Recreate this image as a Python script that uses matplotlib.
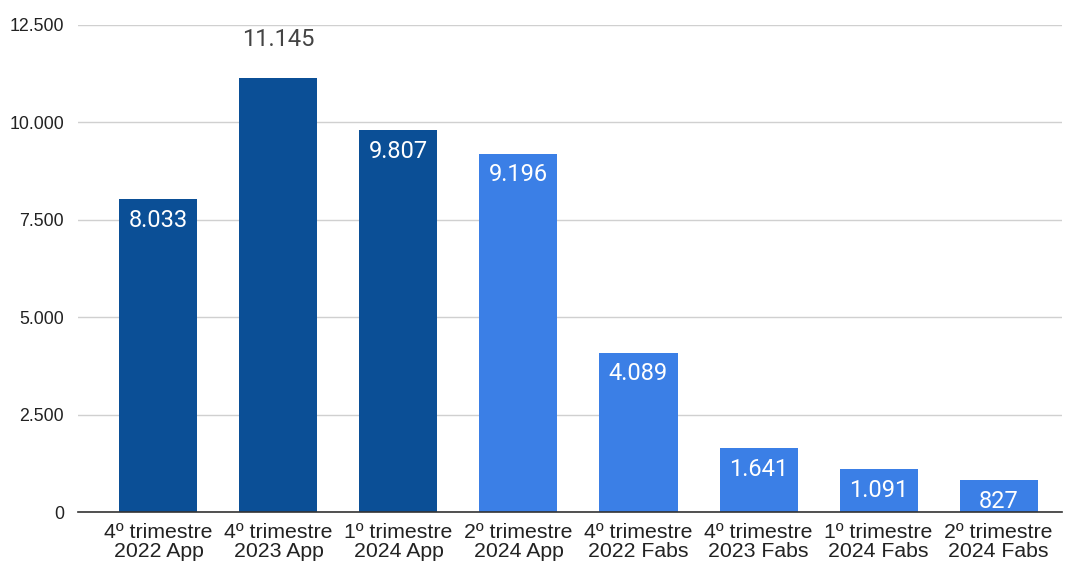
import matplotlib.pyplot as plt
from matplotlib.ticker import FuncFormatter

categorias = ["4º trimestre\n2022 App", "4º trimestre\n2023 App", "1º trimestre\n2024 App",
              "2º trimestre\n2024 App", "4º trimestre\n2022 Fabs", "4º trimestre\n2023 Fabs",
              "1º trimestre\n2024 Fabs", "2º trimestre\n2024 Fabs"]
valores = [8033, 11145, 9807, 9196, 4089, 1641, 1091, 827]
cores = ["#0b4f96", "#0b4f96", "#0b4f96", "#3b7fe6", "#3b7fe6", "#3b7fe6", "#3b7fe6", "#3b7fe6"]
yticks = [0, 2500, 5000, 7500, 10000, 12500]


def br(v):
    return f"{v:,.0f}".replace(",", ".")


fig = plt.figure(figsize=(10.72, 5.65), dpi=100)
ax = fig.add_axes([0.0728, 0.0938, 0.918, 0.862])

x = range(len(valores))
ax.bar(x, valores, width=0.65, color=cores, zorder=2)

for i, v in enumerate(valores):
    if v > 10500:
        # rótulo acima da barra mais alta
        ax.annotate(br(v), (i, v), xytext=(0, 19), textcoords="offset points",
                    ha="center", va="bottom", fontsize=17, color="#444444",
                    family="Roboto")
    else:
        ax.annotate(br(v), (i, v), xytext=(0, -7), textcoords="offset points",
                    ha="center", va="top", fontsize=17, color="white",
                    family="Roboto")

ax.set_xlim(-0.67, 7.53)
ax.set_ylim(0, 12500)
ax.set_yticks(yticks)
ax.yaxis.set_major_formatter(FuncFormatter(lambda v, p: br(v)))
ax.set_xticks(list(x))
ax.set_xticklabels(categorias, fontsize=15.3, family="Liberation Sans", linespacing=0.98)
for lb in ax.get_yticklabels():
    lb.set_fontsize(12.8)
    lb.set_family("Liberation Sans")
ax.tick_params(axis="both", length=0, colors="#222222")
ax.tick_params(axis="y", pad=10)
ax.tick_params(axis="x", pad=8)

ax.grid(axis="y", color="#d0d0d0", linewidth=1, zorder=0)
for s in ["top", "right", "left"]:
    ax.spines[s].set_visible(False)
ax.spines["bottom"].set_color("#333333")
ax.spines["bottom"].set_linewidth(1.2)
ax.spines["bottom"].set_zorder(3)

fig.savefig("out.png", dpi=100)
